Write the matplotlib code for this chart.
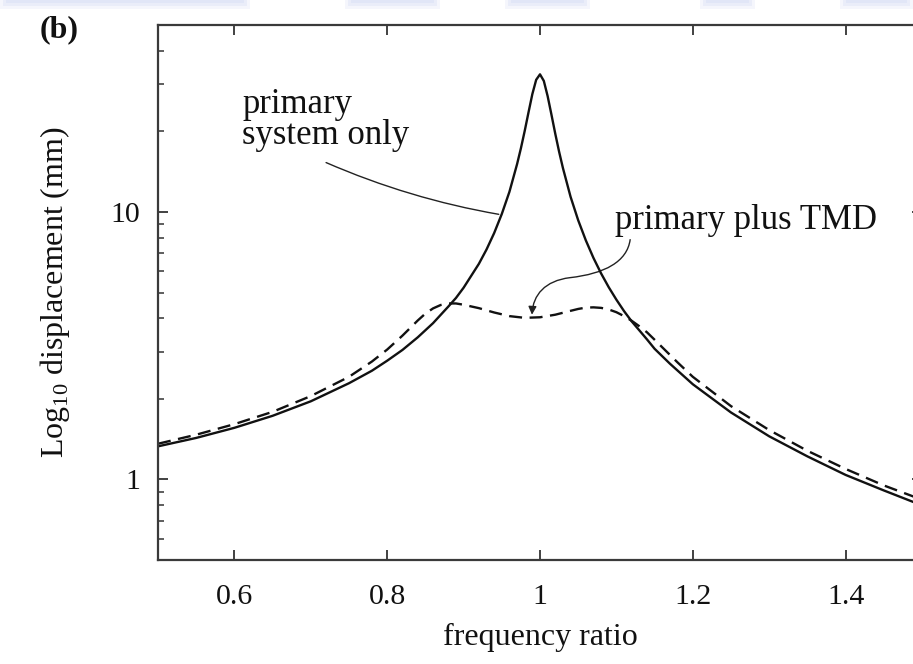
import matplotlib
matplotlib.use("Agg")
import matplotlib.pyplot as plt
from matplotlib.ticker import LogLocator, NullFormatter, FixedLocator, FixedFormatter
from matplotlib.patches import FancyArrowPatch, Rectangle
from matplotlib.path import Path

plt.rcParams['font.family'] = ['Liberation Serif', 'DejaVu Serif']
plt.rcParams['mathtext.fontset'] = 'custom'
plt.rcParams['mathtext.rm'] = 'Liberation Serif'

# frequency ratio samples and displacement (mm) for the bare structure
ratio_primary = [0.50, 0.55, 0.60, 0.65, 0.70, 0.75, 0.78, 0.80, 0.82, 0.84,
                 0.86, 0.88, 0.89, 0.90, 0.92, 0.93, 0.94, 0.95, 0.96, 0.97,
                 0.975, 0.98, 0.985, 0.99, 0.995, 1.00, 1.005, 1.01, 1.015,
                 1.02, 1.025, 1.03, 1.04, 1.05, 1.06, 1.07, 1.08, 1.09, 1.10,
                 1.11, 1.12, 1.13, 1.14, 1.15, 1.17, 1.20, 1.25, 1.30, 1.35,
                 1.40, 1.45, 1.50]
disp_primary = [1.33, 1.43, 1.56, 1.73, 1.96, 2.29, 2.55, 2.78, 3.05, 3.40,
                3.84, 4.43, 4.77, 5.21, 6.40, 7.24, 8.34, 9.83, 11.9, 15.1,
                17.3, 20.1, 23.6, 27.6, 31.2, 32.7, 30.9, 27.1, 23.1,
                19.6, 16.8, 14.6, 11.4, 9.31, 7.83, 6.73, 5.89, 5.23, 4.70,
                4.26, 3.90, 3.61, 3.34, 3.08, 2.71, 2.27, 1.78, 1.45, 1.22,
                1.04, 0.91, 0.80]

# same structure fitted with a tuned mass damper
ratio_tmd = [0.50, 0.55, 0.60, 0.65, 0.70, 0.75, 0.78, 0.80, 0.82, 0.84,
             0.85, 0.86, 0.87, 0.88, 0.89, 0.90, 0.92, 0.94, 0.96, 0.98,
             1.00, 1.02, 1.04, 1.05, 1.06, 1.07, 1.08, 1.09, 1.10, 1.11,
             1.12, 1.13, 1.14, 1.15, 1.16, 1.18, 1.20, 1.25, 1.30, 1.35,
             1.40, 1.45, 1.50]
disp_tmd = [1.36, 1.47, 1.61, 1.79, 2.05, 2.42, 2.76, 3.06, 3.45, 3.93,
            4.17, 4.36, 4.49, 4.55, 4.55, 4.50, 4.37, 4.21, 4.08, 4.02,
            4.04, 4.13, 4.27, 4.34, 4.39, 4.40, 4.38, 4.32, 4.22, 4.08,
            3.92, 3.74, 3.55, 3.33, 3.12, 2.74, 2.42, 1.88, 1.53, 1.28,
            1.095, 0.95, 0.84]

x_ticks = [0.6, 0.8, 1.0, 1.2, 1.4]
x_tick_labels = ["0.6", "0.8", "1", "1.2", "1.4"]
y_ticks = [1, 10]
y_tick_labels = ["1", "10"]

W, H = 913, 664
fig = plt.figure(figsize=(W / 100, H / 100), dpi=100)

# faint bluish smudges along the top edge of the page
for x0, x1 in [(0, 250), (345, 440), (505, 590), (700, 755), (840, 913)]:
    for k, (hgt, a) in enumerate([(9, 0.25), (6, 0.35), (3, 0.45)]):
        fig.patches.append(Rectangle(((x0 + 3 * k) / W, 1 - hgt / H),
                                     (x1 - x0 - 6 * k) / W, hgt / H,
                                     transform=fig.transFigure, color='#d8def5',
                                     alpha=a, lw=0, zorder=0))

ax_left, ax_right, ax_top, ax_bottom = 158, 922, 25, 560
ax = fig.add_axes([ax_left / W, 1 - ax_bottom / H,
                   (ax_right - ax_left) / W, (ax_bottom - ax_top) / H])
ax.patch.set_alpha(0)

ax.plot(ratio_primary, disp_primary, color='#111111', lw=1.7,
        solid_joinstyle='round')
ax.plot(ratio_tmd, disp_tmd, color='#111111', lw=1.7, linestyle=(0, (5.5, 3.2)))

ax.set_yscale('log')
ax.set_xlim(0.5, 1.5)
ax.set_ylim(0.5, 50)

ax.xaxis.set_major_locator(FixedLocator(x_ticks))
ax.xaxis.set_major_formatter(FixedFormatter(x_tick_labels))
ax.yaxis.set_major_locator(FixedLocator(y_ticks))
ax.yaxis.set_major_formatter(FixedFormatter(y_tick_labels))
ax.yaxis.set_minor_locator(LogLocator(base=10, subs=range(2, 10)))
ax.yaxis.set_minor_formatter(NullFormatter())

ax.tick_params(which='both', direction='in', top=True, right=True, colors='#333333',
               labelcolor='#111111')
ax.tick_params(which='major', length=7, width=1.3, labelsize=21.5)
ax.tick_params(axis='x', which='major', pad=17)
ax.tick_params(axis='y', which='major', pad=13)
ax.tick_params(which='minor', length=4.5, width=1.1)
for sp in ax.spines.values():
    sp.set_linewidth(1.6)
    sp.set_color('#3a3a3a')

ax.set_xlabel("frequency ratio", fontsize=23, color='#111111')
ax.xaxis.set_label_coords(0.5, -0.118)
ax.set_ylabel(r"Log$_{10}$ displacement (mm)", fontsize=23, color='#111111')
ax.yaxis.set_label_coords(-0.113, 0.5)

fig.text(40 / W, 1 - 30 / H, "(b)", fontsize=23, fontweight='bold',
         va='center', ha='left', color='#111111')

# label and leader for the bare structure
ax.text(0.61, 29.0, "primary\nsystem only", fontsize=25, ha='left', va='top',
        linespacing=0.92, color='#111111')
ax.annotate("", xy=(0.946, 9.8), xytext=(0.72, 15.3),
            arrowprops=dict(arrowstyle='-', color='#222222', lw=1.0,
                            shrinkA=0, shrinkB=0,
                            connectionstyle='arc3,rad=0.06'))

# label and curved arrow for the damped structure
ax.text(1.098, 8.6, "primary plus TMD", fontsize=25, ha='left', va='baseline',
        color='#111111')
tmd_arrow_path = Path(
    [(1.118, 7.88), (1.114, 6.52), (1.085, 5.88), (1.039, 5.68),
     (1.0065, 5.53), (0.991, 4.90), (0.9895, 4.13)],
    [Path.MOVETO, Path.CURVE4, Path.CURVE4, Path.CURVE4,
     Path.CURVE4, Path.CURVE4, Path.CURVE4])
ax.add_patch(FancyArrowPatch(path=tmd_arrow_path, arrowstyle='-|>',
                             mutation_scale=12, color='#222222', lw=1.0,
                             transform=ax.transData))

fig.savefig("out.png", dpi=100)
